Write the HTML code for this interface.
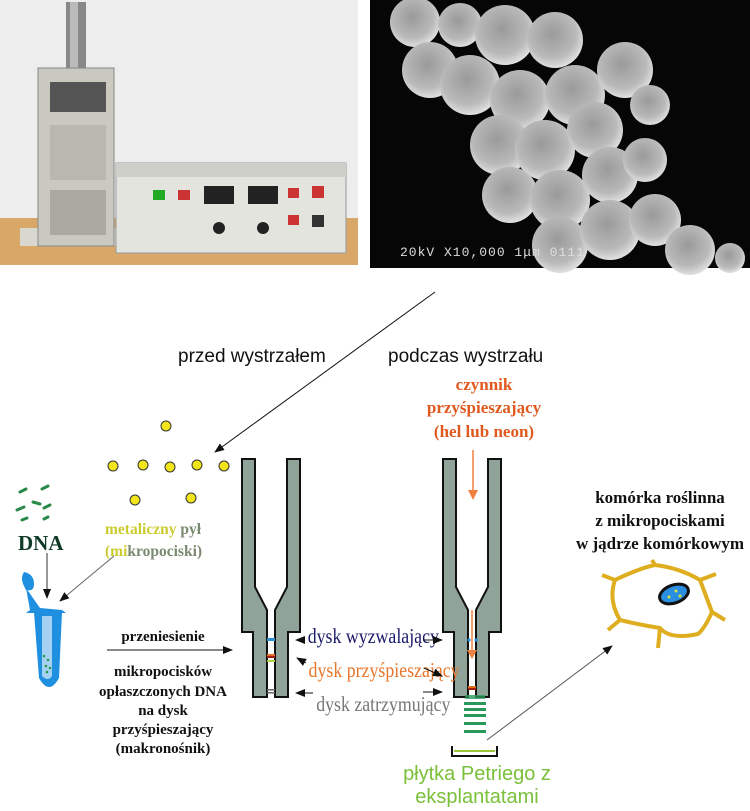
<!DOCTYPE html>
<html><head><meta charset="utf-8"><style>
body{margin:0;width:750px;height:811px;background:#fff;overflow:hidden;position:relative;font-family:"Liberation Sans",sans-serif}
svg{position:absolute;left:0;top:0}
</style></head><body>
<svg width="750" height="811" viewBox="0 0 750 811" xmlns="http://www.w3.org/2000/svg">
<defs>
<radialGradient id="blob" cx="45%" cy="40%" r="60%"><stop offset="0" stop-color="#9a9a9a"/><stop offset="0.7" stop-color="#b9b9b9"/><stop offset="1" stop-color="#e0e0e0"/></radialGradient>
<marker id="ah" markerWidth="10" markerHeight="8" refX="9" refY="4" orient="auto" markerUnits="userSpaceOnUse"><path d="M0,0 L10,4 L0,8 Z" fill="#111"/></marker>
</defs>
<!-- left photo -->
<rect x="0" y="0" width="358" height="218" fill="#ecedec"/>
<rect x="0" y="218" width="358" height="47" fill="#d9a868"/>
<rect x="20" y="228" width="110" height="18" fill="#d8d8d0"/>
<rect x="66" y="2" width="20" height="68" fill="#888"/>
<rect x="70" y="2" width="8" height="68" fill="#bbb"/>
<rect x="38" y="68" width="76" height="178" fill="#c9c9c0" stroke="#888"/>
<rect x="50" y="82" width="56" height="30" fill="#555"/>
<rect x="50" y="125" width="56" height="55" fill="#b8b8b0"/>
<rect x="50" y="190" width="56" height="45" fill="#a9a9a0"/>
<rect x="116" y="163" width="230" height="90" fill="#e4e4df" stroke="#999"/>
<rect x="116" y="163" width="230" height="14" fill="#cfcfca"/>
<rect x="153" y="190" width="12" height="10" fill="#2a2"/><rect x="178" y="190" width="12" height="10" fill="#c33"/>
<rect x="204" y="186" width="30" height="18" fill="#222"/><rect x="248" y="186" width="30" height="18" fill="#222"/>
<rect x="288" y="188" width="11" height="10" fill="#c33"/><rect x="312" y="186" width="12" height="12" fill="#c33"/>
<rect x="288" y="215" width="11" height="10" fill="#c33"/><rect x="312" y="215" width="12" height="12" fill="#333"/>
<circle cx="219" cy="228" r="6" fill="#222"/><circle cx="263" cy="228" r="6" fill="#222"/>
<!-- SEM photo -->
<rect x="370" y="0" width="380" height="268" fill="#060606"/>
<g fill="url(#blob)">
<circle cx="415" cy="22" r="25"/><circle cx="460" cy="25" r="22"/><circle cx="505" cy="35" r="30"/><circle cx="555" cy="40" r="28"/>
<circle cx="430" cy="70" r="28"/><circle cx="470" cy="85" r="30"/><circle cx="520" cy="100" r="30"/><circle cx="575" cy="95" r="30"/><circle cx="625" cy="70" r="28"/>
<circle cx="500" cy="145" r="30"/><circle cx="545" cy="150" r="30"/><circle cx="595" cy="130" r="28"/><circle cx="650" cy="105" r="20"/>
<circle cx="510" cy="195" r="28"/><circle cx="560" cy="200" r="30"/><circle cx="610" cy="175" r="28"/><circle cx="645" cy="160" r="22"/>
<circle cx="560" cy="245" r="28"/><circle cx="610" cy="230" r="30"/><circle cx="655" cy="220" r="26"/><circle cx="690" cy="250" r="25"/><circle cx="730" cy="258" r="15"/>
</g>
<text x="400" y="256" font-family="Liberation Mono,monospace" font-size="13" fill="#ddd" letter-spacing="1">20kV X10,000  1μm 0111</text>

<!-- top labels -->
<line x1="435" y1="292" x2="215" y2="452" stroke="#111" stroke-width="1" marker-end="url(#ah)"/>
<text x="178" y="362" font-size="19" fill="#111">przed wystrzałem</text>
<text x="388" y="362" font-size="19" fill="#111">podczas wystrzału</text>
<g font-family="Liberation Serif,serif" font-weight="bold" font-size="17" fill="#e05a20" text-anchor="middle">
<text x="484" y="390">czynnik</text><text x="484" y="413">przyśpieszający</text><text x="484" y="437">(hel lub neon)</text></g>
<line x1="473" y1="450" x2="473" y2="494" stroke="#f08040" stroke-width="1.5"/><path d="M468,490 L478,490 L473,500 Z" fill="#f08040"/>

<!-- dots -->
<g fill="#f2e61a" stroke="#333" stroke-width="1">
<circle cx="166" cy="426" r="5"/><circle cx="113" cy="466" r="5"/><circle cx="143" cy="465" r="5"/><circle cx="170" cy="467" r="5"/><circle cx="197" cy="465" r="5"/><circle cx="224" cy="466" r="5"/><circle cx="135" cy="500" r="5"/><circle cx="191" cy="498" r="5"/></g>

<!-- DNA -->
<g stroke="#2a8a4a" stroke-width="3" stroke-linecap="round">
<line x1="20" y1="492" x2="26" y2="489"/><line x1="42" y1="489" x2="48" y2="486"/><line x1="33" y1="502" x2="40" y2="504"/><line x1="44" y1="508" x2="50" y2="505"/><line x1="17" y1="510" x2="24" y2="507"/><line x1="22" y1="520" x2="27" y2="518"/><line x1="44" y1="519" x2="48" y2="517"/></g>
<text x="18" y="550" font-family="Liberation Serif,serif" font-weight="bold" font-size="21" fill="#0f3a25">DNA</text>
<line x1="47" y1="553" x2="47" y2="598" stroke="#333" marker-end="url(#ah)"/>
<g font-family="Liberation Serif,serif" font-weight="bold" font-size="15.5">
<text x="105" y="534"><tspan fill="#cccc30">metaliczny</tspan><tspan fill="#7a8a70"> pył</tspan></text>
<text x="105" y="556"><tspan fill="#cccc30">(mi</tspan><tspan fill="#7a8a70">kropociski)</tspan></text></g>
<line x1="114" y1="556" x2="60" y2="601" stroke="#666" marker-end="url(#ah)"/>
<!-- tube -->
<g fill="#1f8fe0">
<path d="M24,572 q-4,6 0,14 l2,4 q8,2 8,-6 q0,-10 -10,-12z"/>
<path d="M26,588 l4,22 l-4,3 h40 l-4,-3 l-22,-2 z"/>
<path d="M34,612 h28 l-3,66 q-10,18 -20,0 z"/></g>
<path d="M42,616 v60 q6,6 10,0 v-60 z" fill="#fff" opacity="0.6"/>
<g fill="#2a9a4a"><circle cx="48" cy="660" r="1.3"/><circle cx="46" cy="666" r="1.3"/><circle cx="50" cy="668" r="1.3"/><circle cx="47" cy="672" r="1.3"/><circle cx="44" cy="656" r="1.3"/></g>

<g font-family="Liberation Serif,serif" font-weight="bold" font-size="15" fill="#111" text-anchor="middle">
<text x="163" y="641">przeniesienie</text>
<text x="163" y="676">mikropocisków</text><text x="163" y="696">opłaszczonych DNA</text><text x="163" y="715">na dysk</text><text x="163" y="734">przyśpieszający</text><text x="163" y="753">(makronośnik)</text></g>
<line x1="107" y1="650" x2="232" y2="650" stroke="#111" marker-end="url(#ah)"/>

<!-- left barrel -->
<g fill="#8fa398" stroke="#111" stroke-width="2">
<path d="M242,459 H255 V587 L267,610 V697 H253 V632 H242 Z"/>
<path d="M300,459 H287 V587 L275,610 V697 H288 V632 H300 Z"/></g>
<rect x="267" y="638" width="8" height="3" fill="#2a8fd0"/>
<rect x="267" y="654" width="8" height="2" fill="#e07020"/><rect x="267" y="656" width="8" height="2" fill="#a02010"/><rect x="267" y="660" width="8" height="2" fill="#b0d040"/>
<rect x="267" y="689" width="8" height="1.5" fill="#666"/><rect x="267" y="692" width="8" height="1.5" fill="#666"/>
<!-- right barrel -->
<g fill="#8fa398" stroke="#111" stroke-width="2">
<path d="M443,459 H456 V587 L468,610 V697 H454 V632 H443 Z"/>
<path d="M501,459 H488 V587 L476,610 V697 H489 V632 H501 Z"/></g>
<line x1="472" y1="610" x2="472" y2="652" stroke="#f08040" stroke-width="1.5"/><path d="M467,650 L477,650 L472,659 Z" fill="#f08040"/>
<circle cx="469" cy="640" r="1.6" fill="#2a8fd0"/><circle cx="476" cy="640" r="1.6" fill="#2a8fd0"/>
<rect x="468" y="686" width="8" height="2" fill="#e07020"/><rect x="468" y="688" width="8" height="2" fill="#a02010"/>
<g fill="#2a9a5a">
<rect x="465" y="695" width="20" height="4" opacity=".8"/><rect x="464" y="702" width="22" height="3"/><rect x="464" y="708" width="22" height="3"/><rect x="464" y="714" width="22" height="3"/><rect x="464" y="722" width="22" height="3"/><rect x="464" y="730" width="22" height="3"/></g>
<!-- petri -->
<path d="M452,746 V756 H497 V746" fill="none" stroke="#111" stroke-width="2"/>
<line x1="454" y1="751" x2="495" y2="751" stroke="#9ac43a" stroke-width="2"/>
<line x1="487" y1="740" x2="612" y2="646" stroke="#555" marker-end="url(#ah)"/>

<!-- disk labels -->
<g font-family="Liberation Serif,serif" font-size="21" transform="scale(0.85,1)">
<text x="362" y="643" fill="#1a1a6a">dysk wyzwalający</text>
<text x="363" y="677" fill="#e8762a">dysk przyśpieszający</text>
<text x="372" y="711" fill="#777">dysk zatrzymujący</text></g>
<g stroke="#111" stroke-width="1">
<line x1="305" y1="640" x2="296" y2="640" marker-end="url(#ah)"/>
<line x1="423" y1="640" x2="442" y2="640" marker-end="url(#ah)"/>
<line x1="306" y1="663" x2="297" y2="658" marker-end="url(#ah)"/>
<line x1="424" y1="668" x2="442" y2="676" marker-end="url(#ah)"/>
<line x1="313" y1="693" x2="296" y2="693" marker-end="url(#ah)"/>
<line x1="423" y1="692" x2="442" y2="692" marker-end="url(#ah)"/></g>

<g font-size="20" fill="#7ac03a" text-anchor="middle"><text x="477" y="780">płytka Petriego z</text><text x="477" y="803">eksplantatami</text></g>

<g font-family="Liberation Serif,serif" font-weight="bold" font-size="17" fill="#111" text-anchor="middle">
<text x="660" y="503">komórka roślinna</text><text x="660" y="526">z mikropociskami</text><text x="660" y="549">w jądrze komórkowym</text></g>
<!-- cell -->
<g fill="none" stroke="#dfae20" stroke-width="4" stroke-linejoin="round">
<path d="M615,580 Q640,568 655,565 Q680,568 700,580 L712,612 Q705,628 698,634 Q670,640 660,628 Q640,625 620,620 Q608,600 615,580 Z"/>
<path d="M655,565 L652,560 M700,580 L716,574 M712,612 L725,620 M660,628 L658,648 M615,580 L602,575 M620,620 L608,630"/></g>
<ellipse cx="674" cy="594" rx="15" ry="9" transform="rotate(-20 674 594)" fill="#2a8fe0" stroke="#111" stroke-width="3"/>
<g fill="#d8e040"><circle cx="669" cy="597" r="1.5"/><circle cx="676" cy="591" r="1.5"/><circle cx="680" cy="596" r="1.5"/></g>
</svg>
</body></html>
